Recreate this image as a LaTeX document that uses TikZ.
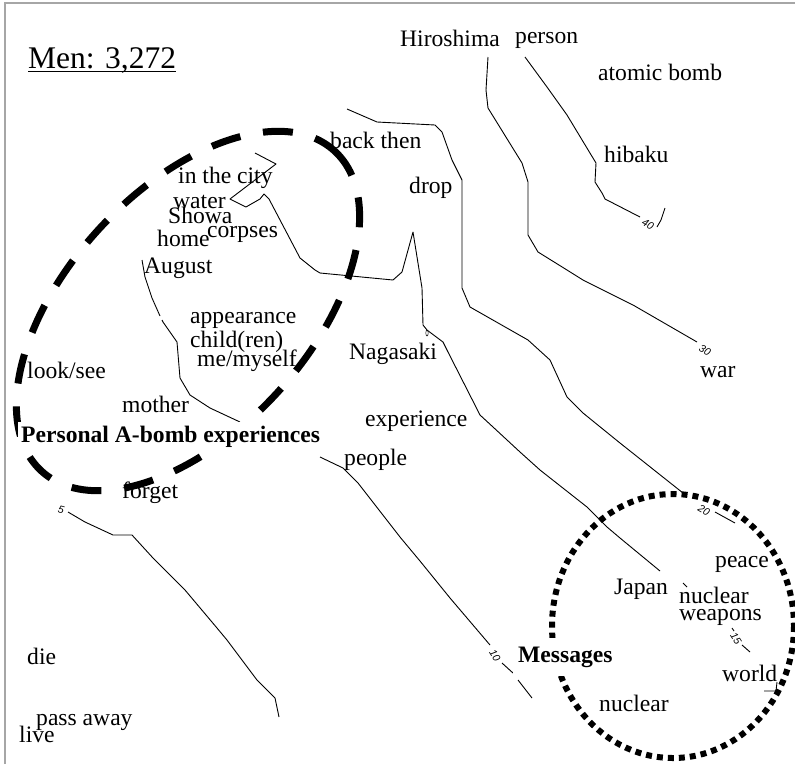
\documentclass[tikz,border=0pt]{standalone}
\usepackage{fontspec}
\setmainfont{Liberation Serif}
\setsansfont{Liberation Sans}
\begin{document}
\begin{tikzpicture}[x=1pt,y=-1pt]
\tikzset{
  word/.style={anchor=base west, inner sep=0pt, font=\fontsize{23.6}{26}\selectfont},
  theme/.style={anchor=base west, inner xsep=3pt, inner ysep=4pt, fill=white,
                font=\fontsize{23.6}{26}\selectfont\bfseries},
  contour/.style={line width=0.9pt, line join=round},
  clabel/.style={inner sep=1pt, fill=white, font=\fontsize{10.5}{11}\selectfont\sffamily\itshape},
  frame/.style={draw=gray!70, line width=1.3pt},
  themering/.style={line width=7pt, dash pattern=on 30pt off 23pt},
  dotring/.style={line width=6pt, dash pattern=on 6pt off 5pt},
}
\useasboundingbox (0,0) rectangle (795,764);
\fill[white] (0,0) rectangle (795,764);

% frame (top and left edges only)
\draw[frame] (5,764) -- (5,3) -- (795,3);

% contour 40
\draw[contour] (525,57) -- (547,87) -- (567,115) -- (596,163) -- (595,182)
  -- (602,193) -- (605,199) -- (640,217);
\draw[contour] (657,227) -- (661,220) -- (665,208);
\node[clabel, rotate=-30] (c40) at (648,224) {40};

% contour 30
\draw[contour] (488,57) -- (486,90) -- (488,108) -- (522,163) -- (528,182)
  -- (528,235) -- (538,252) -- (567,270) -- (583,280) -- (633,305) -- (697,342);
\node[clabel, rotate=-30] (c30) at (705,350) {30};

% contour 20
\draw[contour] (347,109) -- (377,122) -- (435,125) -- (442,132) -- (452,160)
  -- (462,180) -- (462,288) -- (470,307) -- (528,340) -- (550,360) -- (567,397)
  -- (583,413) -- (620,443) -- (683,493);
\draw[contour] (715,512) -- (735,523);
\node[clabel, rotate=-30] (c20) at (704,510) {20};

% contour 15
\draw[contour] (255,153) -- (276,164) -- (230,199) -- (246,207) -- (260,199)
  -- (264,194) -- (269,199) -- (300,258) -- (315,270) -- (320,273) -- (393,280)
  -- (402,272) -- (413,232) -- (422,288) -- (423,325) -- (427,330) -- (443,342)
  -- (448,352) -- (480,415) -- (493,427) -- (520,452) -- (540,470) -- (587,507)
  -- (607,527) -- (620,538) -- (660,571);
\draw[contour] (683,583) -- (687,587);
\draw[contour] (732,628) -- (734,631);
\draw[contour] (742,645) -- (750,652);
\draw[contour] (764,691) -- (776,691) -- (777,682);
\draw[line width=0.5pt] (427,333) ellipse [x radius=1.2, y radius=3];
\node[clabel, rotate=-58] (c15) at (736,639) {15};

% contour 10
\draw[contour] (142,260) -- (145,277) -- (152,298) -- (160,316);
\draw[contour] (162,320) -- (163,322) -- (177,342) -- (180,378) -- (190,395)
  -- (210,408) -- (240,422);
\draw[contour] (320,457) -- (343,468) -- (358,483) -- (393,528) -- (400,537)
  -- (420,561) -- (450,598) -- (490,645);
\draw[contour] (502,663) -- (513,673);
\draw[contour] (518,680) -- (532,698);
\node[clabel, rotate=-58] (c10) at (495,656) {10};

% contour 5
\draw[contour] (68,512) -- (85,522) -- (113,535) -- (132,535) -- (153,558)
  -- (170,575) -- (185,590) -- (217,628) -- (227,640) -- (257,680) -- (275,698)
  -- (279,717);
\node[clabel, rotate=-15] (c5) at (61,510) {5};

% theme rings
\draw[themering, rotate around={47.5:(188,311)}] (188,311) ellipse [x radius=217, y radius=121];
\draw[dotring] (673,626) ellipse [x radius=121, y radius=132];

% title
\node[word, font=\fontsize{31.5}{34}\selectfont] (title) at (28,68) {Men: 3,272};
\draw[line width=1.2pt] ([yshift=-3.6pt]title.base west) -- ([yshift=-3.6pt]title.base east);

% words
\node[word] (hiroshima) at (400,46) {Hiroshima};
\node[word] (person) at (515,43) {person};
\node[word] (atomic) at (598,80) {atomic bomb};
\node[word] (backthen) at (330,148) {back then};
\node[word] (hibaku) at (604,162) {hibaku};
\node[word] (city) at (178,183) {in the city};
\node[word] (drop) at (409,193) {drop};
\node[word] (water) at (173,208) {water};
\node[word] (showa) at (168,223) {Showa};
\node[word] (corpses) at (207,237) {corpses};
\node[word] (home) at (157,246) {home};
\node[word] (august) at (144,273) {August};
\node[word] (appearance) at (190,323) {appearance};
\node[word] (children) at (190,347) {child(ren)};
\node[word] (myself) at (197,366) {me/myself};
\node[word] (nagasaki) at (349,359) {Nagasaki};
\node[word] (looksee) at (27,378) {look/see};
\node[word] (war) at (700,377) {war};
\node[word] (mother) at (122,412) {mother};
\node[word] (experience) at (365,426) {experience};
\node[word] (people) at (344,465) {people};
\node[word] (forget) at (122,498) {forget};
\node[word] (peace) at (715,567) {peace};
\node[word] (japan) at (614,594) {Japan};
\node[word] (nuclearA) at (679,603) {nuclear};
\node[word] (weapons) at (679,620) {weapons};
\node[word] (world) at (722,681) {world};
\node[word] (die) at (27,664) {die};
\node[word] (nuclearB) at (599,711) {nuclear};
\node[word] (passaway) at (36,725) {pass away};
\node[word] (live) at (19,742) {live};

% theme titles
\node[theme] (personal) at (18,442) {Personal A-bomb experiences};
\node[theme, inner ysep=9pt, inner xsep=5pt] (messages) at (513,662) {Messages};
\end{tikzpicture}
\end{document}
